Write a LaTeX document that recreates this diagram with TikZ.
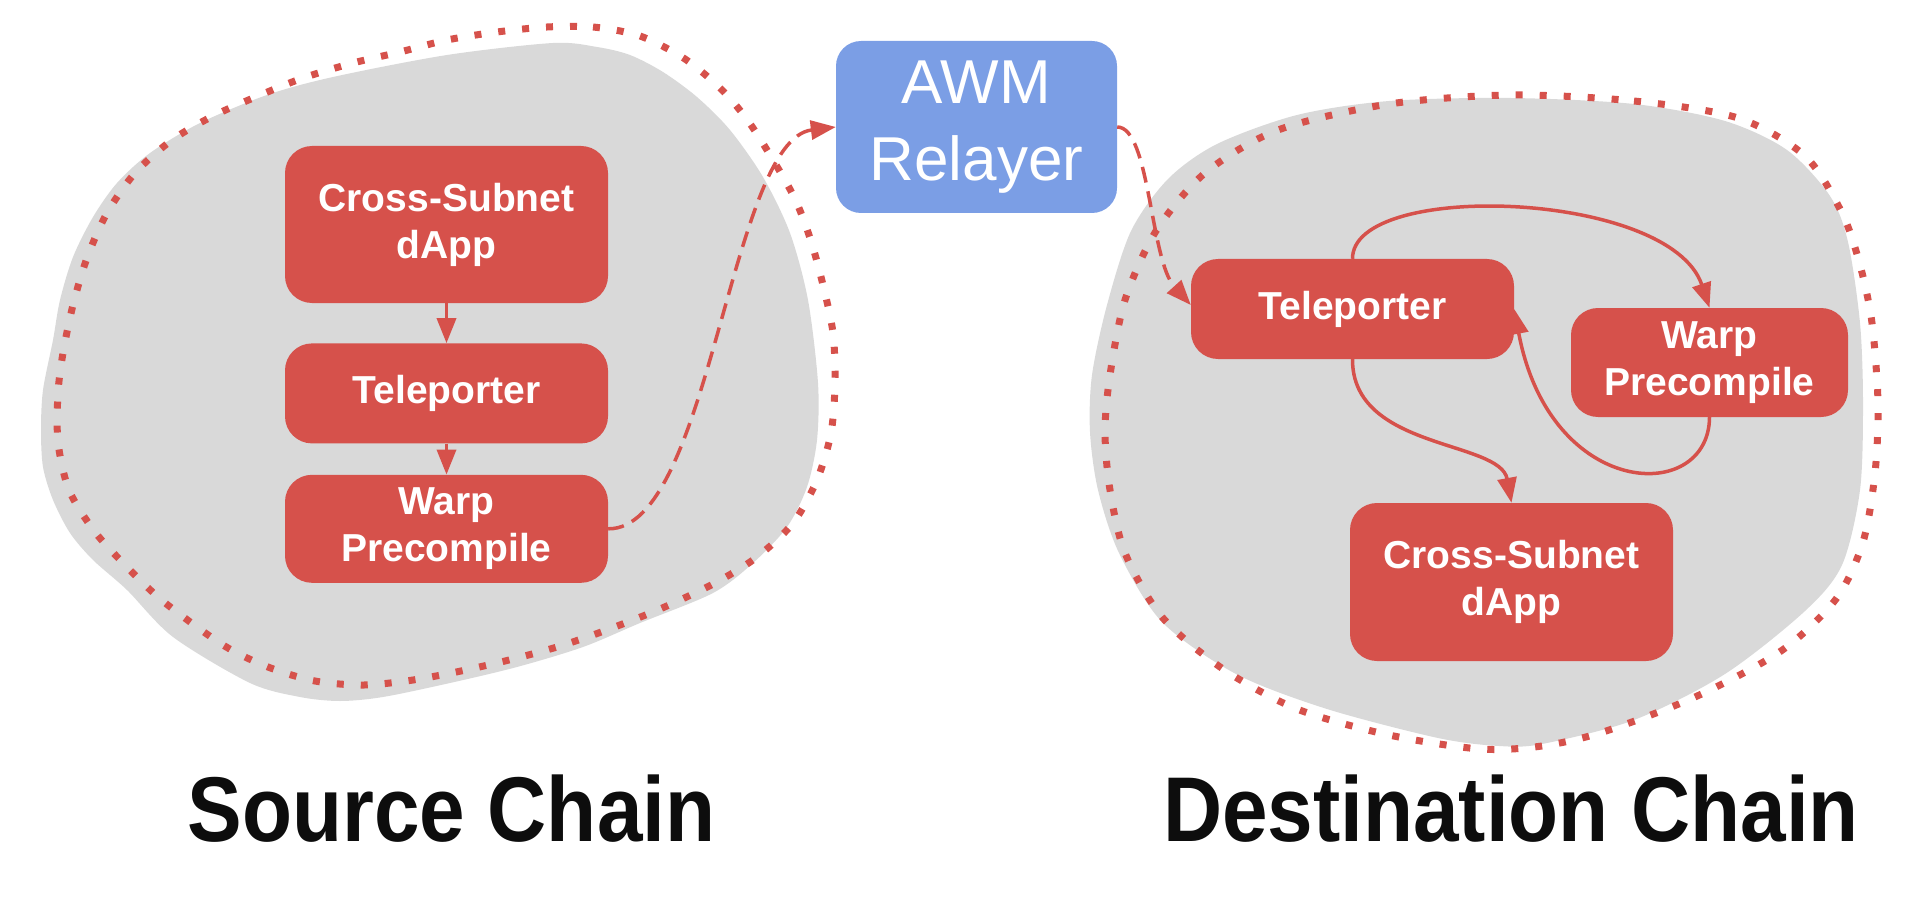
\documentclass[tikz,border=0pt]{standalone}
\usepackage{fontspec}
\usepackage{tikz}
\setmainfont{Liberation Sans}
\newfontfamily\titlefont[FakeStretch=0.89]{Liberation Sans}
\usetikzlibrary{arrows.meta}
\usetikzlibrary{positioning}
\definecolor{boxred}{HTML}{D6514B}
\definecolor{relayblue}{HTML}{7B9EE5}
\definecolor{blobgrey}{HTML}{D9D9D9}
\definecolor{inkblack}{HTML}{0D0D0D}
\tikzset{redbox/.style = {fill=boxred, rounded corners=27pt, inner sep=0pt,
                          text=white, align=center, minimum width=323pt,
                          font=\bfseries\fontsize{39}{47}\selectfont},
         relaybox/.style = {fill=relayblue, rounded corners=25pt, inner sep=0pt,
                            text=white, align=center, minimum width=281pt,
                            minimum height=172pt, font=\fontsize{62}{77}\selectfont},
         flow/.style = {draw=boxred, line width=3.5pt,
                        -{Triangle[length=25pt,width=19pt]}},
         relay/.style = {flow, dash pattern=on 16pt off 9pt},
         border/.style = {draw=boxred, line width=7pt, dash pattern=on 7pt off 17pt},
         chainlabel/.style = {anchor=base, text=inkblack,
                              font=\titlefont\bfseries\fontsize{92}{100}\selectfont}}

\begin{document}
\begin{tikzpicture}[x=1pt, y=-1pt]
  \path[use as bounding box] (0,0) rectangle (1920,904);

  % the two chains
  \fill[blobgrey] plot[smooth cycle] coordinates {(553,43) (447,55) (333,77) (267,95)
    (200,123) (150,153) (117,183) (93,217) (73,257) (60,300) (53,340) (43,390) (41,430)
    (43,467) (53,500) (70,533) (93,560) (127,590) (173,637) (250,683) (300,697)
    (340,701) (383,697) (450,683) (517,667) (583,647) (640,623) (713,593) (753,563)
    (787,527) (807,487) (817,440) (818,383) (808,300) (790,233) (763,177) (730,130)
    (697,97) (663,72) (630,55) (597,47)};
  \fill[blobgrey] plot[smooth cycle] coordinates {(1511,98) (1634,104) (1725,121)
    (1787,150) (1830,196) (1848,242) (1860,323) (1863,403) (1860,490) (1842,565)
    (1805,611) (1725,674) (1634,720) (1542,744) (1499,746) (1438,738) (1327,709)
    (1236,674) (1162,622) (1119,553) (1098,490) (1090,432) (1092,375) (1107,305)
    (1131,231) (1168,179) (1217,144) (1297,115) (1389,101)};
  \draw[border] plot[smooth cycle] coordinates {(547,27) (593,27) (640,36) (685,59)
    (723,91) (753,128) (792,193) (810,238) (823,285) (833,333) (835,383) (831,433)
    (817,480) (793,523) (757,557) (715,583) (660,609) (604,631) (557,647) (509,660)
    (461,671) (413,680) (364,685) (315,681) (268,667) (223,645) (164,602) (128,568)
    (95,532) (69,490) (58,442) (58,393) (63,353) (73,305) (87,258) (107,213) (135,173)
    (172,140) (213,116) (258,96) (303,78) (353,63) (400,52) (447,40) (497,32)};
  \draw[border] plot[smooth cycle] coordinates {(1511,95) (1634,101) (1738,118)
    (1805,156) (1842,213) (1860,265) (1872,323) (1878,403) (1875,473) (1863,542)
    (1836,599) (1781,651) (1695,697) (1603,732) (1542,746) (1480,749) (1389,735)
    (1297,709) (1223,669) (1162,617) (1125,553) (1110,490) (1105,432) (1110,375)
    (1125,300) (1156,231) (1205,173) (1278,130) (1389,104)};

  % source side
  \node[redbox, minimum height=157pt] (scross) at (446.5,224.5) {Cross-Subnet\\dApp};
  \node[redbox, minimum height=100pt, below=40pt of scross] (stele) {Teleporter};
  \node[redbox, minimum height=108pt, below=31pt of stele] (swarp) {Warp\\Precompile};

  \node[relaybox] (awm) at (976.5,127) {AWM\\Relayer};

  % destination side
  \node[redbox, minimum height=100pt] (dtele) at (1352.5,309) {Teleporter};
  \node[redbox, minimum width=277pt, minimum height=109pt] (dwarp) at (1709.5,362.5) {Warp\\Precompile};
  \node[redbox, minimum height=158pt] (ddapp) at (1511.5,582) {Cross-Subnet\\dApp};

  \draw[flow] (scross) -- (stele);
  \draw[flow] (stele) -- (swarp);
  \draw[relay] (swarp.east) .. controls (710,530) and (730,140) .. (awm.west);
  \draw[relay] (awm.east) .. controls (1150,127) and (1150,260) .. ([yshift=4pt]dtele.west);
  \draw[flow] (dtele.north) .. controls (1352,180) and (1670,190) .. (dwarp.north);
  \draw[flow] (dwarp.south) .. controls (1709,505) and (1550,500) .. (dtele.east);
  \draw[flow] (dtele.south) .. controls (1352,450) and (1500,440) .. (ddapp.north);

  \node[chainlabel] (srclabel) at (451.5,841) {Source Chain};
  \node[chainlabel] (dstlabel) at (1511,841) {Destination Chain};
\end{tikzpicture}
\end{document}
